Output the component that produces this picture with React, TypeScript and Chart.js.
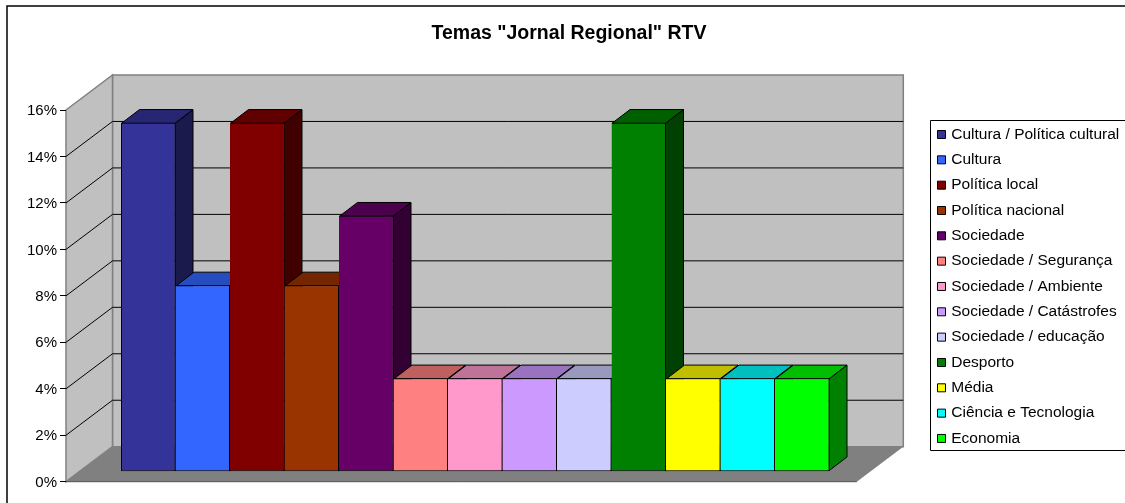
import React, { useEffect, useRef } from "react";
import { Chart, registerables } from "chart.js";

Chart.register(...registerables);

const chartTitle = 'Temas "Jornal Regional" RTV';
const categories = ["Temas"];
const seriesNames = [
  "Cultura / Política cultural",
  "Cultura",
  "Política local",
  "Política nacional",
  "Sociedade",
  "Sociedade / Segurança",
  "Sociedade / Ambiente",
  "Sociedade / Catástrofes",
  "Sociedade / educação",
  "Desporto",
  "Média",
  "Ciência e Tecnologia",
  "Economia",
];
const seriesValues = [15, 8, 15, 8, 11, 4, 4, 4, 4, 15, 4, 4, 4];
const seriesColors = [
  [51, 51, 153],
  [51, 102, 255],
  [128, 0, 0],
  [153, 51, 0],
  [102, 0, 102],
  [255, 128, 128],
  [255, 153, 204],
  [204, 153, 255],
  [204, 204, 255],
  [0, 128, 0],
  [255, 255, 0],
  [0, 255, 255],
  [0, 255, 0],
];

const FONT = "'Liberation Sans', Arial, sans-serif";
const shade = (c: number[], k: number) =>
  `rgb(${Math.round(c[0] * k)},${Math.round(c[1] * k)},${Math.round(c[2] * k)})`;

// layout of the pseudo-3D box
const AREA_LEFT = 66;
const AREA_RIGHT = 884.5;
const FLOOR_RIGHT = 856.8;
const WALL_DX = 46.5;
const WALL_DY = 35;
const BAR_DX = 18;
const BAR_DY = 13.7;
const LEGEND_BOX = { left: 930.5, top: 120.5, bottom: 450.5 };
const LEGEND_FONT = 15.5;
const LEGEND_PAD = 25.33 - LEGEND_FONT;

function poly(ctx: CanvasRenderingContext2D, pts: number[][], fill: string | null, stroke: string | null, lw = 1) {
  ctx.beginPath();
  pts.forEach((p, i) => (i ? ctx.lineTo(p[0], p[1]) : ctx.moveTo(p[0], p[1])));
  ctx.closePath();
  if (fill) {
    ctx.fillStyle = fill;
    ctx.fill();
  }
  if (stroke) {
    ctx.strokeStyle = stroke;
    ctx.lineWidth = lw;
    ctx.stroke();
  }
}

const box3d = {
  id: "box3d",
  afterLayout(chart: any) {
    const lg = chart.legend;
    lg.left = 939.5 - LEGEND_PAD;
    lg.right = 1125;
    lg.top = 126.75 - LEGEND_PAD;
  },
  beforeDraw(chart: any) {
    const ctx: CanvasRenderingContext2D = chart.ctx;
    const y = chart.scales.y;
    const y0 = y.getPixelForValue(0);
    const yTop = y.getPixelForValue(16);
    const x0 = AREA_LEFT;
    const bx = x0 + WALL_DX;
    const bxR = FLOOR_RIGHT + WALL_DX;
    ctx.save();
    ctx.fillStyle = "#fff";
    ctx.fillRect(0, 0, chart.width, chart.height);

    // outer chart frame (runs past the right and bottom of the picture)
    ctx.strokeStyle = "#000";
    ctx.lineWidth = 1.5;
    ctx.strokeRect(7, 6, 1140, 520);

    // legend frame
    ctx.lineWidth = 1;
    ctx.strokeStyle = "#000";
    ctx.fillStyle = "#fff";
    ctx.beginPath();
    ctx.rect(LEGEND_BOX.left, LEGEND_BOX.top, 1140 - LEGEND_BOX.left, LEGEND_BOX.bottom - LEGEND_BOX.top);
    ctx.fill();
    ctx.stroke();

    // walls
    poly(ctx, [[bx, yTop - WALL_DY], [bxR, yTop - WALL_DY], [bxR, y0 - WALL_DY], [bx, y0 - WALL_DY]], "#C0C0C0", "#808080", 1.5);
    poly(ctx, [[x0, yTop], [bx, yTop - WALL_DY], [bx, y0 - WALL_DY], [x0, y0]], "#C0C0C0", "#808080", 1.5);
    poly(ctx, [[x0, y0], [bx, y0 - WALL_DY], [bxR, y0 - WALL_DY], [FLOOR_RIGHT, y0]], "#808080", null);
    ctx.strokeStyle = "#505050";
    ctx.lineWidth = 1;
    ctx.beginPath();
    ctx.moveTo(x0, y0);
    ctx.lineTo(FLOOR_RIGHT, y0);
    ctx.stroke();

    // gridlines follow the side wall and then the back wall
    ctx.strokeStyle = "#000";
    ctx.lineWidth = 1;
    for (const t of y.ticks) {
      if (t.value <= 0 || t.value >= 16) continue;
      const py = y.getPixelForValue(t.value);
      ctx.beginPath();
      ctx.moveTo(x0, py);
      ctx.lineTo(bx, py - WALL_DY);
      ctx.lineTo(bxR, py - WALL_DY);
      ctx.stroke();
    }
    ctx.restore();
  },
  beforeDatasetDraw() {
    return false;
  },
  afterDatasetsDraw(chart: any) {
    const ctx: CanvasRenderingContext2D = chart.ctx;
    ctx.save();
    ctx.lineJoin = "round";
    seriesValues.forEach((_, i) => {
      const bar = chart.getDatasetMeta(i).data[0];
      const { x, y, width, base } = bar.getProps(["x", "y", "width", "base"], true);
      const l = x - width / 2 + 0.5;
      const r = x + width / 2 - 0.5;
      const t = y + 0.5;
      const b = base - 0.5;
      const c = seriesColors[i];
      poly(ctx, [[r, t], [r + BAR_DX, t - BAR_DY], [r + BAR_DX, b - BAR_DY], [r, b]], shade(c, 0.5), "#000");
      poly(ctx, [[l, t], [l + BAR_DX, t - BAR_DY], [r + BAR_DX, t - BAR_DY], [r, t]], shade(c, 0.75), "#000");
      bar.draw(ctx);
    });
    ctx.restore();
  },
};

export default function App() {
  const ref = useRef<HTMLCanvasElement>(null);
  useEffect(() => {
    document.body.style.margin = "0";
    document.body.style.overflow = "hidden";
    const chart = new Chart(ref.current as HTMLCanvasElement, {
      type: "bar",
      data: {
        labels: categories,
        datasets: seriesNames.map((name, i) => ({
          label: name,
          data: [seriesValues[i]],
          yAxisID: "yb",
          backgroundColor: shade(seriesColors[i], 1),
          borderColor: "#000",
          borderWidth: { left: i === 0 ? 1 : 0, right: 1, top: 1, bottom: 1 },
          borderSkipped: false,
          inflateAmount: 0,
          categoryPercentage: 708.5 / 818.5,
          barPercentage: 1,
        })),
      },
      options: {
        responsive: false,
        animation: false,
        events: [],
        font: { family: FONT },
        layout: { autoPadding: false, padding: { left: 13, right: 0, top: 0, bottom: 21.3 } },
        scales: {
          x: { display: false },
          y: {
            position: "left",
            min: 0,
            max: 16,
            afterFit: (s: any) => {
              s.width = AREA_LEFT - 13;
            },
            border: { display: false },
            grid: { drawOnChartArea: false, drawTicks: true, tickLength: 6, tickColor: "#000" },
            ticks: {
              stepSize: 2,
              padding: 3,
              labelOffset: 1,
              color: "#000",
              font: { family: FONT, size: 15 },
              callback: (v: any) => `${v}%`,
            },
          },
          // the bars stand inside the box: their own value axis sits in front of the floor's back edge
          yb: {
            position: "right",
            min: -10.5 / 23.23,
            max: 361.2 / 23.23,
            afterFit: (s: any) => {
              s.width = 1125 - s.chart.legend.width - AREA_RIGHT;
            },
            border: { display: false },
            grid: { display: false },
            ticks: { display: false },
          },
        },
        plugins: {
          tooltip: { enabled: false },
          title: {
            display: true,
            text: chartTitle,
            color: "#000",
            font: { family: FONT, size: 19.5, weight: "bold" },
            padding: { top: 22.1, bottom: 64.5 },
          },
          legend: {
            display: true,
            position: "right",
            align: "start",
            labels: {
              color: "#000",
              font: { family: FONT, size: LEGEND_FONT },
              usePointStyle: true,
              pointStyle: "rect",
              boxWidth: 4,
              boxHeight: 8,
              padding: LEGEND_PAD,
              generateLabels: (c: any) =>
                (Chart as any).defaults.plugins.legend.labels.generateLabels(c).map((l: any) => ({ ...l, lineWidth: 1 })),
            },
          },
        },
      },
      plugins: [box3d],
    } as any);
    return () => chart.destroy();
  }, []);
  return <canvas ref={ref} width={1125} height={503} style={{ display: "block" }} />;
}
